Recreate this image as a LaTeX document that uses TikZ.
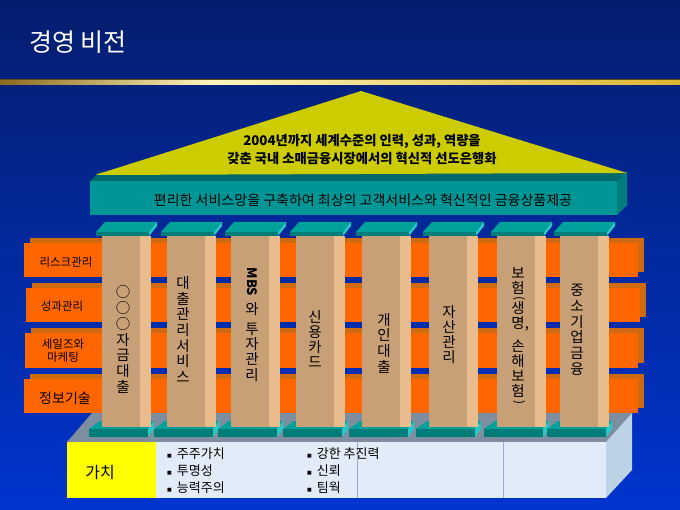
\documentclass[tikz,border=0pt]{standalone}
\usepackage{fontspec}
\setmainfont{Noto Sans CJK KR}
\newfontfamily\symfont{DejaVu Sans}
\definecolor{bgtop}{RGB}{4,30,110}
\definecolor{bgbot}{RGB}{0,52,205}
\definecolor{roof}{RGB}{204,204,0}
\definecolor{tealfront}{RGB}{0,150,150}
\definecolor{tealtop}{RGB}{0,105,105}
\definecolor{tealside}{RGB}{0,125,125}
\definecolor{captop}{RGB}{0,160,155}
\definecolor{capfront}{RGB}{0,125,120}
\definecolor{capside}{RGB}{40,200,200}
\definecolor{orfront}{RGB}{255,102,0}
\definecolor{orback}{RGB}{208,106,16}
\definecolor{pilfront}{RGB}{200,160,120}
\definecolor{pilside}{RGB}{232,188,140}
\definecolor{platgrey}{RGB}{125,142,160}
\definecolor{platside}{RGB}{190,210,230}
\definecolor{platfront}{RGB}{226,236,248}
\definecolor{platline}{RGB}{150,172,205}
\definecolor{valyellow}{RGB}{255,255,0}
\definecolor{golddark}{RGB}{140,105,30}
\definecolor{goldlight}{RGB}{255,246,190}
\definecolor{gold}{RGB}{222,180,50}
\tikzset{
  titletext/.style={text=white, font=\fontsize{25}{28}\selectfont, inner sep=0pt},
  rooftext/.style={font=\bfseries\fontsize{13.3}{18}\selectfont, align=center, inner sep=0pt},
  bandtext/.style={text=black, font=\fontsize{14}{16}\selectfont, inner sep=0pt},
  barlabel/.style={text=black, font=\fontsize{11.5}{13}\selectfont, align=center, inner sep=0pt},
  ptext/.style={text=black, font=\fontsize{14.5}{16}\selectfont, inner sep=0pt},
  bullettext/.style={text=black, font=\fontsize{13}{15}\selectfont, inner sep=0pt, anchor=west},
  valtext/.style={text=black, font=\fontsize{16}{18}\selectfont, inner sep=0pt}
}
\newcommand\bul{\raisebox{1.5pt}{\symfont\fontsize{5}{5}\selectfont ■}\hspace{5pt}}
\begin{document}
\begin{tikzpicture}[x=1pt,y=-1pt]
\useasboundingbox (0,0) rectangle (680,510);
% background
\fill[top color=bgtop,bottom color=bgbot] (0,0) rectangle (680,510);
% gold line
\fill[left color=golddark,right color=goldlight] (0,79.5) rectangle (210,84.5);
\fill[left color=goldlight,right color=gold] (210,79.5) rectangle (680,84.5);
\draw[golddark!70!black, line width=0.6pt] (0,79.5) -- (680,79.5);
% title
\node[titletext, anchor=west] (title) at (29,42) {경영 비전};

% orange bars
\fill[orback] (30,238) rectangle (644,272);
\fill[orfront] (24,243) rectangle (638,277);
\fill[orback] (32,283) rectangle (646,317);
\fill[orfront] (26,288) rectangle (640,322);
\fill[orback] (31,328) rectangle (644,363);
\fill[orfront] (25,333) rectangle (638,368);
\fill[orback] (30,374) rectangle (644,408);
\fill[orfront] (24,379) rectangle (638,413);
\node[barlabel] (risk) at (66,262) {리스크관리};
\node[barlabel] (perf) at (62,306) {성과관리};
\node[barlabel] (sales) at (63,351) {세일즈와\\마케팅};
\node[barlabel, font=\fontsize{14}{15}\selectfont] (it) at (65,398) {정보기술};

% platform
\fill[platgrey] (92,413) -- (632,413) -- (606,442) -- (67,442) -- cycle;
\fill[platside] (606,442) -- (632,413) -- (632,470) -- (606,498) -- cycle;
\fill[platfront] (67,442) rectangle (606,498);
\fill[valyellow] (67,442) rectangle (156,498);
\draw[platline, line width=0.6pt] (357,442) -- (357,498);
\draw[platline, line width=0.6pt] (503,442) -- (503,498);
\node[valtext] (value) at (100,473) {가치};
\node[bullettext] (v1) at (167,454) {\bul 주주가치};
\node[bullettext] (v2) at (167,471) {\bul 투명성};
\node[bullettext] (v3) at (167,488) {\bul 능력주의};
\node[bullettext] (v4) at (307,454) {\bul 강한 추진력};
\node[bullettext] (v5) at (307,471) {\bul 신뢰};
\node[bullettext] (v6) at (307,488) {\bul 팀웍};

% pillars
\foreach \L in {102,167,231,296,362,429,497,560} {
  % base plate
  \fill[captop] (\L-2,421) -- (\L+52,421) -- (\L+46,429) -- (\L-13,429) -- cycle;
  \fill[capfront] (\L-13,429) rectangle (\L+46,437);
  \fill[capside] (\L+46,429) -- (\L+52,421) -- (\L+52,429) -- (\L+46,437) -- cycle;
  % body
  \fill[pilfront] (\L,236) rectangle (\L+38,427);
  \fill[pilside] (\L+38,236) rectangle (\L+49,427);
  % cap
  \fill[captop] (\L+3,222) -- (\L+55,222) -- (\L+47,232) -- (\L-6,232) -- cycle;
  \fill[capfront] (\L-6,232) rectangle (\L+47,236);
  \fill[capside] (\L+47,232) -- (\L+55,222) -- (\L+55,226) -- (\L+47,236) -- cycle;
}
% pillar texts
\foreach \c/\yy [count=\k] in {○/292,○/308,○/324,자/340,금/355,대/371,출/387}
  \node[ptext] (pa\k) at (123,\yy) {\c};
\foreach \c/\yy [count=\k] in {대/283,출/299,관/314,리/330,서/346,비/361,스/377}
  \node[ptext] (pb\k) at (183,\yy) {\c};
\node[ptext, rotate=-90, font=\bfseries\fontsize{13}{14}\selectfont] (pcm) at (252,282) {MBS};
\foreach \c/\yy [count=\k] in {와/309,투/329,자/344,관/359,리/375}
  \node[ptext] (pc\k) at (252,\yy) {\c};
\foreach \c/\yy [count=\k] in {신/317,용/332,카/347,드/362}
  \node[ptext] (pd\k) at (315,\yy) {\c};
\foreach \c/\yy [count=\k] in {개/320,인/335,대/351,출/367}
  \node[ptext] (pe\k) at (384,\yy) {\c};
\foreach \c/\yy [count=\k] in {자/312,산/327,관/342,리/357}
  \node[ptext] (pf\k) at (449,\yy) {\c};
\foreach \c/\yy [count=\k] in {보/273,험/288,생/308,명/323,손/346,해/361,보/376,험/391}
  \node[ptext] (pg\k) at (518,\yy) {\c};
\node[ptext, rotate=-90, font=\fontsize{12}{12}\selectfont] (pgo) at (519,298.5) {(};
\node[ptext] (pgk) at (527,329) {,};
\node[ptext, rotate=-90, font=\fontsize{12}{12}\selectfont] (pgc) at (519,403) {)};
\foreach \c/\yy [count=\k] in {중/290,소/306,기/322,업/337,금/353,융/369}
  \node[ptext] (ph\k) at (577,\yy) {\c};

% teal band
\fill[tealtop] (90,181) -- (100,172) -- (627,172) -- (617,181) -- cycle;
\fill[tealside] (617,181) -- (627,172) -- (627,205) -- (617,215) -- cycle;
\fill[tealfront] (90,181) rectangle (617,215);
\node[bandtext] (mission) at (363,200) {편리한 서비스망을 구축하여 최상의 고객서비스와 혁신적인 금융상품제공};

% roof
\fill[roof] (95,175) -- (361,91) -- (627,173) -- cycle;
\node[rooftext] (vision) at (362,150) {2004년까지 세계수준의 인력, 성과, 역량을\\갖춘 국내 소매금융시장에서의 혁신적 선도은행화};
\end{tikzpicture}
\end{document}
